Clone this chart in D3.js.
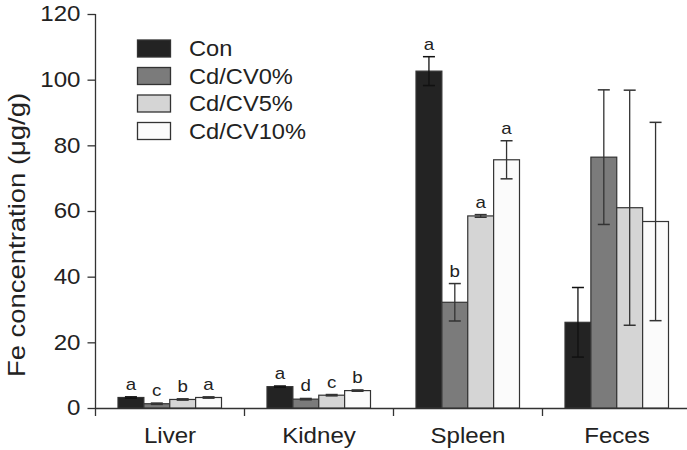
<!DOCTYPE html>
<html>
<head>
<meta charset="utf-8">
<script src="https://cdn.jsdelivr.net/npm/d3@7"></script>
<style>
  html, body { margin: 0; padding: 0; background: #fff; }
  svg { display: block; font-family: "Liberation Sans", Arial, sans-serif; }
</style>
</head>
<body>
<svg id="chart" width="687" height="450"></svg>
<script>
const categories = ["Liver", "Kidney", "Spleen", "Feces"];
const series = ["Con", "Cd/CV0%", "Cd/CV5%", "Cd/CV10%"];
const colors = ["#232323", "#7b7b7b", "#d5d5d5", "#fbfbfb"];
// values[series][category]
const values = [
  [3.2, 6.5, 102.6, 26.1],
  [1.3, 2.7, 32.2, 76.4],
  [2.6, 3.9, 58.5, 61.0],
  [3.2, 5.3, 75.6, 56.8]
];
const errors = [
  [0.2, 0.2, 4.4, 10.6],
  [0.2, 0.2, 5.7, 20.5],
  [0.2, 0.2, 0.4, 35.8],
  [0.2, 0.2, 5.8, 30.2]
];
const letters = [
  ["a", "a", "a", ""],
  ["c", "d", "b", ""],
  ["b", "c", "a", ""],
  ["a", "b", "a", ""]
];
const yTicks = [0, 20, 40, 60, 80, 100, 120];
const yLabel = "Fe concentration (\u03bcg/g)";

const svg = d3.select("#chart");
const ink = "#333";
const txt = "#222";

// horizontally stretch text (reference uses a wide sans face)
function stretch(sel, k) {
  sel.each(function () {
    const w = this.getComputedTextLength();
    this.setAttribute("textLength", w * k);
    this.setAttribute("lengthAdjust", "spacingAndGlyphs");
  });
}

const y = d3.scaleLinear().domain([0, 120]).range([408, 14]);
const x = d3.scaleBand().domain(categories).range([95.5, 691.5]).padding(0);
const xs = d3.scaleBand().domain(series).range([22.5, 126]).padding(0);

// y axis
const yAxis = svg.append("g").attr("transform", "translate(95.5,0)")
  .call(d3.axisLeft(y).tickValues(yTicks).tickSize(8).tickPadding(7).tickSizeOuter(0));
yAxis.select(".domain").remove();
yAxis.selectAll(".tick line").attr("stroke", ink).attr("stroke-width", 1.3);
yAxis.selectAll(".tick text").attr("font-size", 21.5).attr("fill", txt)
  .attr("font-family", "Liberation Sans, Arial, sans-serif");
stretch(yAxis.selectAll(".tick text"), 1.12);
svg.append("line").attr("x1", 95.5).attr("x2", 95.5).attr("y1", y(120)).attr("y2", y(0) + 8)
  .attr("stroke", ink).attr("stroke-width", 1.3);

// x axis
const xAxis = svg.append("g").attr("transform", `translate(0,${y(0)})`)
  .call(d3.axisBottom(x).tickSize(0).tickPadding(20).tickSizeOuter(0));
xAxis.select(".domain").attr("stroke", ink).attr("stroke-width", 1.3);
xAxis.selectAll(".tick text").attr("font-size", 21.5).attr("fill", txt)
  .attr("font-family", "Liberation Sans, Arial, sans-serif");
stretch(xAxis.selectAll(".tick text"), 1.12);
svg.append("g").selectAll("line").data(categories.slice(0, 3)).join("line")
  .attr("x1", d => x(d) + x.bandwidth()).attr("x2", d => x(d) + x.bandwidth())
  .attr("y1", y(0)).attr("y2", y(0) + 8)
  .attr("stroke", ink).attr("stroke-width", 1.3);

// y label
const yl = svg.append("text")
  .attr("transform", `translate(25,235) rotate(-90)`)
  .attr("text-anchor", "middle").attr("font-size", 24.5).attr("fill", txt)
  .text(yLabel);
stretch(yl, 1.12);

// bars
const data = [];
series.forEach((s, si) => categories.forEach((c, ci) => {
  data.push({ s, si, c, v: values[si][ci], e: errors[si][ci], l: letters[si][ci] });
}));

svg.append("g").selectAll("rect").data(data).join("rect")
  .attr("x", d => x(d.c) + xs(d.s))
  .attr("width", xs.bandwidth())
  .attr("y", d => y(d.v))
  .attr("height", d => y(0) - y(d.v))
  .attr("fill", d => colors[d.si])
  .attr("stroke", ink).attr("stroke-width", 1.2);

// error bars
const eb = svg.append("g");
data.forEach(d => {
  const cx = x(d.c) + xs(d.s) + xs.bandwidth() / 2;
  const top = y(d.v + d.e), bot = y(d.v - d.e);
  const col = d.si === 0 ? "#111" : "#333";
  eb.append("line").attr("x1", cx).attr("x2", cx).attr("y1", top).attr("y2", bot)
    .attr("stroke", col).attr("stroke-width", 1.3);
  [top, bot].forEach(yy => eb.append("line")
    .attr("x1", cx - 6).attr("x2", cx + 6).attr("y1", yy).attr("y2", yy)
    .attr("stroke", col).attr("stroke-width", 1.5));
});

// letters
const lt = svg.append("g").selectAll("text").data(data.filter(d => d.l)).join("text")
  .attr("x", d => x(d.c) + xs(d.s) + xs.bandwidth() / 2)
  .attr("y", d => y(d.v + d.e) - 7)
  .attr("text-anchor", "middle").attr("font-size", 17).attr("fill", txt)
  .text(d => d.l);
stretch(lt, 1.1);

// legend
const lg = svg.append("g");
series.forEach((s, i) => {
  const yy = 40 + i * 27.5;
  lg.append("rect").attr("x", 137.5).attr("y", yy).attr("width", 33).attr("height", 17)
    .attr("fill", colors[i]).attr("stroke", ink).attr("stroke-width", 1.3);
  const t = lg.append("text").attr("x", 189).attr("y", yy + 16).attr("font-size", 21.5).attr("fill", txt)
    .text(s);
  stretch(t, 1.1);
});
</script>
</body>
</html>
